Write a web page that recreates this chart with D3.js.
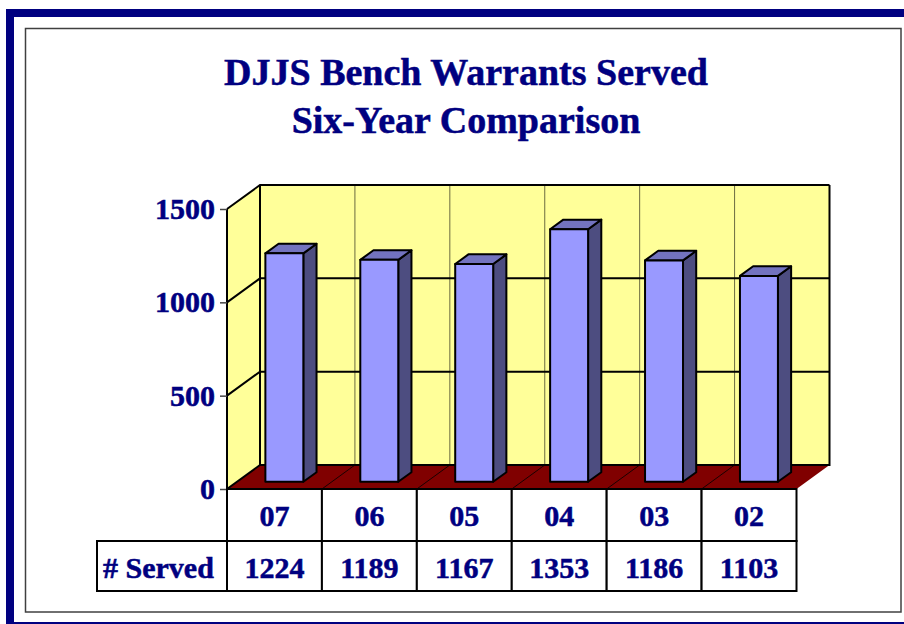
<!DOCTYPE html>
<html>
<head>
<meta charset="utf-8">
<script src="https://cdn.jsdelivr.net/npm/d3@7"></script>
<style>
  html, body { margin: 0; padding: 0; background: #fff; }
  svg { display: block; }
  text { font-family: "Liberation Serif", "Times New Roman", serif; font-weight: bold; fill: #000080; stroke: #000080; stroke-width: 0.5px; }
</style>
</head>
<body>
<div id="chart"></div>
<script>
// chart data
var years = ["07", "06", "05", "04", "03", "02"];
var served = [1224, 1189, 1167, 1353, 1186, 1103];
var yTicks = [0, 500, 1000, 1500];
var titleLines = ["DJJS Bench Warrants Served", "Six-Year Comparison"];
var rowLabel = "# Served";

var width = 904, height = 624;

// front plane of the 3d box
var x = d3.scaleBand().domain(years).range([227, 796.5]);
var y = d3.scaleLinear().domain([0, 1500]).range([489, 209]);

// depth offsets (back wall is shifted up and right)
var DX = 33, DY = -24;
function px(xv, z) { return xv + z * DX; }
function py(yv, z) { return yv + z * DY; }
function pt(xv, yv, z) { return [px(xv, z), py(yv, z)]; }

var svg = d3.select("#chart")
    .append("svg")
    .attr("width", width)
    .attr("height", height);

// outer navy frame and inner grey border
svg.append("rect")
  .attr("x", 10).attr("y", 13)
  .attr("width", 904).attr("height", 613)
  .attr("fill", "none")
  .attr("stroke", "#000080")
  .attr("stroke-width", 8);

svg.append("rect")
  .attr("x", 25.5).attr("y", 28.5)
  .attr("width", 875.5).attr("height", 583.5)
  .attr("fill", "#fff")
  .attr("stroke", "#404040")
  .attr("stroke-width", 1.5);

// title
svg.selectAll(".title")
  .data(titleLines)
  .enter().append("text")
  .attr("class", "title")
  .attr("x", 466)
  .attr("y", function(d, i) { return 85 + i * 48; })
  .attr("text-anchor", "middle")
  .style("font-size", "38px")
  .text(function(d) { return d; });

var line = d3.line();
var x0 = x.range()[0], x1 = x.range()[1];
var y0 = y(0), yTop = y(1500);

// back wall
svg.append("path")
  .attr("d", line([pt(x0, yTop, 1), pt(x1, yTop, 1), pt(x1, y0, 1), pt(x0, y0, 1)]) + "Z")
  .attr("fill", "#FFFF99");

// left wall
svg.append("path")
  .attr("d", line([pt(x0, yTop, 0), pt(x0, yTop, 1), pt(x0, y0, 1), pt(x0, y0, 0)]) + "Z")
  .attr("fill", "#FFFF99");

// floor
svg.append("path")
  .attr("d", line([pt(x0, y0, 0), pt(x1, y0, 0), pt(x1, y0, 1), pt(x0, y0, 1)]) + "Z")
  .attr("fill", "#800000");

// vertical category gridlines on the back wall + floor divisions
var inner = years.slice(1).map(function(d) { return x(d); });
svg.selectAll(".vgrid")
  .data(inner)
  .enter().append("line")
  .attr("class", "vgrid")
  .attr("x1", function(d) { return px(d, 1); })
  .attr("x2", function(d) { return px(d, 1); })
  .attr("y1", py(yTop, 1))
  .attr("y2", py(y0, 1))
  .attr("stroke", "#6b6b40")
  .attr("stroke-width", 1);

svg.selectAll(".fgrid")
  .data(inner)
  .enter().append("line")
  .attr("class", "fgrid")
  .attr("x1", function(d) { return px(d, 0); })
  .attr("y1", py(y0, 0))
  .attr("x2", function(d) { return px(d, 1); })
  .attr("y2", py(y0, 1))
  .attr("stroke", "#000")
  .attr("stroke-width", 0.8);

// horizontal gridlines on back wall and left wall
var grid = yTicks.filter(function(d) { return d > 0; });
svg.selectAll(".hgrid")
  .data(grid)
  .enter().append("path")
  .attr("class", "hgrid")
  .attr("d", function(d) {
    return line([pt(x0, y(d), 0), pt(x0, y(d), 1), pt(x1, y(d), 1)]);
  })
  .attr("fill", "none")
  .attr("stroke", "#000")
  .attr("stroke-width", 2);

// wall edges
svg.append("path")
  .attr("d", line([pt(x0, y0, 1), pt(x1, y0, 1), pt(x1, yTop, 1)]))
  .attr("fill", "none").attr("stroke", "#000").attr("stroke-width", 2);
svg.append("path")
  .attr("d", line([pt(x0, yTop, 1), pt(x0, y0, 1)]))
  .attr("fill", "none").attr("stroke", "#000").attr("stroke-width", 2);
svg.append("path")
  .attr("d", line([pt(x0, y0, 0), pt(x0, yTop, 0)]))
  .attr("fill", "none").attr("stroke", "#000").attr("stroke-width", 2);
svg.append("path")
  .attr("d", line([pt(x0, y0, 0), pt(x0, y0, 1)]))
  .attr("fill", "none").attr("stroke", "#000").attr("stroke-width", 2);

// bars
var zf = 0.3, zb = 0.7, bw = x.bandwidth() * 0.4;
var bars = svg.selectAll(".bar")
  .data(years.map(function(d, i) { return {year: d, value: served[i]}; }))
  .enter().append("g")
  .attr("class", "bar");

function barX(d) { return x(d.year) + (x.bandwidth() - bw) / 2; }

bars.append("path")  // side
  .attr("d", function(d) {
    var l = barX(d) + bw;
    return line([pt(l, y(d.value), zf), pt(l, y(d.value), zb), pt(l, y0, zb), pt(l, y0, zf)]) + "Z";
  })
  .attr("fill", "#4D4D80")
  .attr("stroke", "#000").attr("stroke-width", 2).attr("stroke-linejoin", "round");

bars.append("path")  // top
  .attr("d", function(d) {
    var l = barX(d), r = l + bw, t = y(d.value);
    return line([pt(l, t, zf), pt(l, t, zb), pt(r, t, zb), pt(r, t, zf)]) + "Z";
  })
  .attr("fill", "#7373BF")
  .attr("stroke", "#000").attr("stroke-width", 2).attr("stroke-linejoin", "round");

bars.append("path")  // front
  .attr("d", function(d) {
    var l = barX(d), r = l + bw, t = y(d.value);
    return line([pt(l, t, zf), pt(r, t, zf), pt(r, y0, zf), pt(l, y0, zf)]) + "Z";
  })
  .attr("fill", "#9999FF")
  .attr("stroke", "#000").attr("stroke-width", 2).attr("stroke-linejoin", "round");

// y axis
var yAxis = d3.axisLeft(y).tickValues(yTicks).tickFormat(d3.format("d")).tickSize(7).tickPadding(5);
var gy = svg.append("g")
  .attr("class", "y axis")
  .attr("transform", "translate(" + x0 + ",0)")
  .call(yAxis);
gy.select(".domain").remove();
gy.selectAll(".tick line").attr("stroke", "#444").attr("stroke-width", 1.5);
gy.selectAll(".tick text")
  .attr("fill", "#000080")
  .style("font-family", "'Liberation Serif', serif")
  .style("font-weight", "bold")
  .style("font-size", "30px");

// data table
var r1 = 489, r2 = 541, r3 = 591;
var table = svg.append("g").attr("class", "table");

table.selectAll(".cell1")
  .data(years)
  .enter().append("rect")
  .attr("x", function(d) { return x(d); })
  .attr("y", r1)
  .attr("width", x.bandwidth())
  .attr("height", r2 - r1)
  .attr("fill", "#fff")
  .attr("stroke", "#000").attr("stroke-width", 2);

table.selectAll(".cell2")
  .data(years)
  .enter().append("rect")
  .attr("x", function(d) { return x(d); })
  .attr("y", r2)
  .attr("width", x.bandwidth())
  .attr("height", r3 - r2)
  .attr("fill", "#fff")
  .attr("stroke", "#000").attr("stroke-width", 2);

table.append("rect")
  .attr("x", 97).attr("y", r2)
  .attr("width", x0 - 97).attr("height", r3 - r2)
  .attr("fill", "#fff")
  .attr("stroke", "#000").attr("stroke-width", 2);

table.selectAll(".yr")
  .data(years)
  .enter().append("text")
  .attr("x", function(d) { return x(d) + x.bandwidth() / 2; })
  .attr("y", 525.5)
  .attr("text-anchor", "middle")
  .style("font-size", "30px")
  .text(function(d) { return d; });

table.selectAll(".val")
  .data(served)
  .enter().append("text")
  .attr("x", function(d, i) { return x(years[i]) + x.bandwidth() / 2; })
  .attr("y", 578)
  .attr("text-anchor", "middle")
  .style("font-size", "30px")
  .text(function(d) { return d; });

table.append("text")
  .attr("x", 103)
  .attr("y", 578)
  .style("font-size", "30px")
  .text(rowLabel);
</script>
</body>
</html>
